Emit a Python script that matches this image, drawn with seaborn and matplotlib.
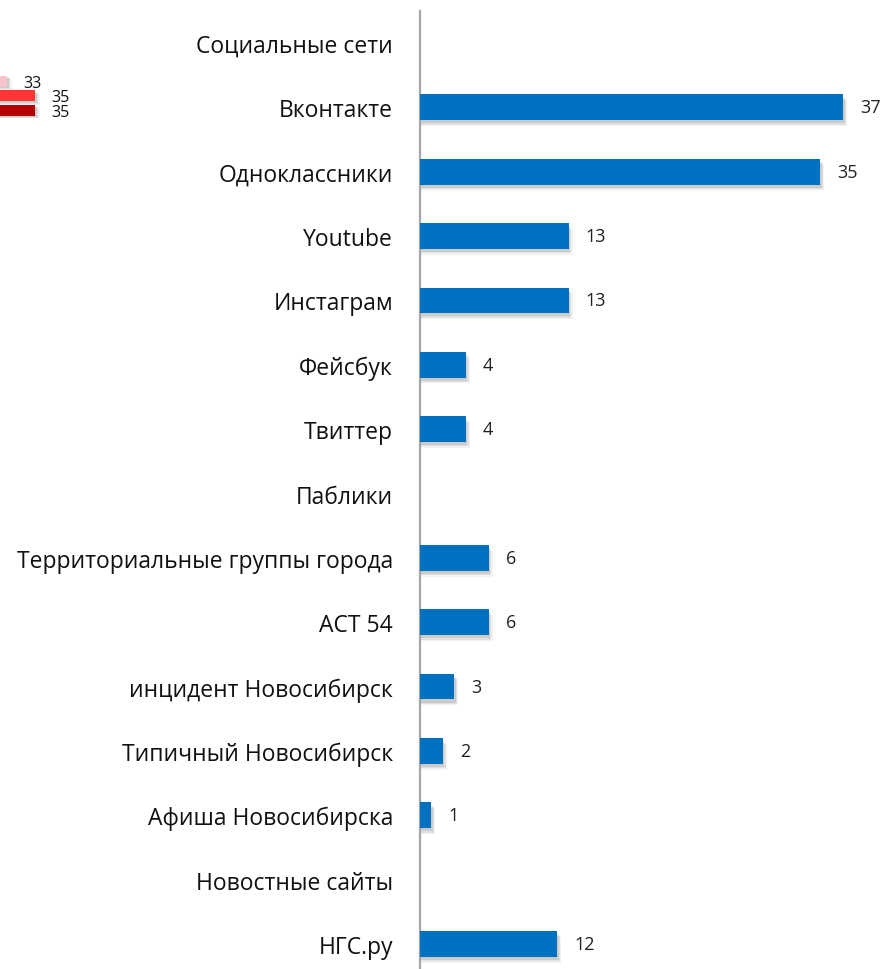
import numpy as np
import pandas as pd
import seaborn as sns
import matplotlib.pyplot as plt

# Categories (header rows have no value)
categories = [
    "Социальные сети", "Вконтакте", "Одноклассники", "Youtube", "Инстаграм",
    "Фейсбук", "Твиттер", "Паблики", "Территориальные группы города",
    "АСТ 54", "инцидент Новосибирск", "Типичный Новосибирск",
    "Афиша Новосибирска", "Новостные сайты", "НГС.ру",
]
values = [None, 37, 35, 13, 13, 4, 4, None, 6, 6, 3, 2, 1, None, 12]

# Cut-off fragment of a neighbouring chart (top left corner)
frag_values = [33, 35, 35]
frag_colors = ["#F7C4CB", "#FF3535", "#B30000"]

BLUE = "#0070C0"

df = pd.DataFrame({"category": categories, "value": values})
df["value"] = df["value"].astype(float).fillna(0)

sns.set_style("white")
plt.rcParams["font.family"] = ["Open Sans", "DejaVu Sans"]

fig = plt.figure(figsize=(8.83, 9.70), dpi=100)
W, H = 883, 970

# main axes: left spine at x=420 px, rows from 11.8 px to 977 px
ax = fig.add_axes([420 / W, -0.0074, (W - 420) / W, 0.9952])

# soft shadow under each bar (only rows that have a value)
has = df["value"] > 0
dx, dy = 0.35, 0.07
for k, a in [(1.0, 0.08), (0.7, 0.12), (0.4, 0.16)]:
    ax.barh(np.arange(len(df))[has] + dy * k + 0.02, df["value"][has] + dx * k,
            height=0.4, left=0, color="#606060", alpha=a, linewidth=0, zorder=1)

sns.barplot(data=df, y="category", x="value", orient="h", color=BLUE,
            width=0.4, saturation=1, linewidth=0, ax=ax, zorder=3)
for p in ax.patches[-len(df):]:
    p.set_zorder(3)

for i, v in enumerate(df["value"]):
    if v > 0:
        ax.text(v + 17 / 11.43, i, f"{int(v)}", va="center", ha="left",
                fontsize=13, color="#222222")

ax.set_xlim(0, (W - 420) / 11.43)
ax.set_ylim(len(df) - 0.5, -0.5)
ax.set_xlabel("")
ax.set_ylabel("")
ax.set_xticks([])
ax.tick_params(axis="y", length=0, pad=19.5, labelsize=16.5, labelcolor="#111111")
for s in ["top", "right", "bottom"]:
    ax.spines[s].set_visible(False)
ax.spines["left"].set_color("#A6A6A6")
ax.spines["left"].set_linewidth(1.6)

# fragment axes (mostly outside the figure on the left)
ax2 = fig.add_axes([-455 / W, 1 - 118.5 / H, 560 / W, 43.5 / H])
fy = np.arange(len(frag_values))
for k, a in [(1.0, 0.08), (0.7, 0.12), (0.4, 0.16)]:
    ax2.barh(fy + 0.25 * k, np.array(frag_values) + 0.35 * k, height=0.76,
             color="#606060", alpha=a, linewidth=0, zorder=1)
ax2.barh(fy, frag_values, height=0.76, color=frag_colors, linewidth=0, zorder=3)
for i, v in enumerate(frag_values):
    ax2.text(v + 16 / 14, i + 0.12, str(v), va="center", ha="left",
             fontsize=11.5, color="#111111")
ax2.set_xlim(0, 40)
ax2.set_ylim(2.5, -0.5)
ax2.axis("off")

fig.savefig("out.png", dpi=100)
